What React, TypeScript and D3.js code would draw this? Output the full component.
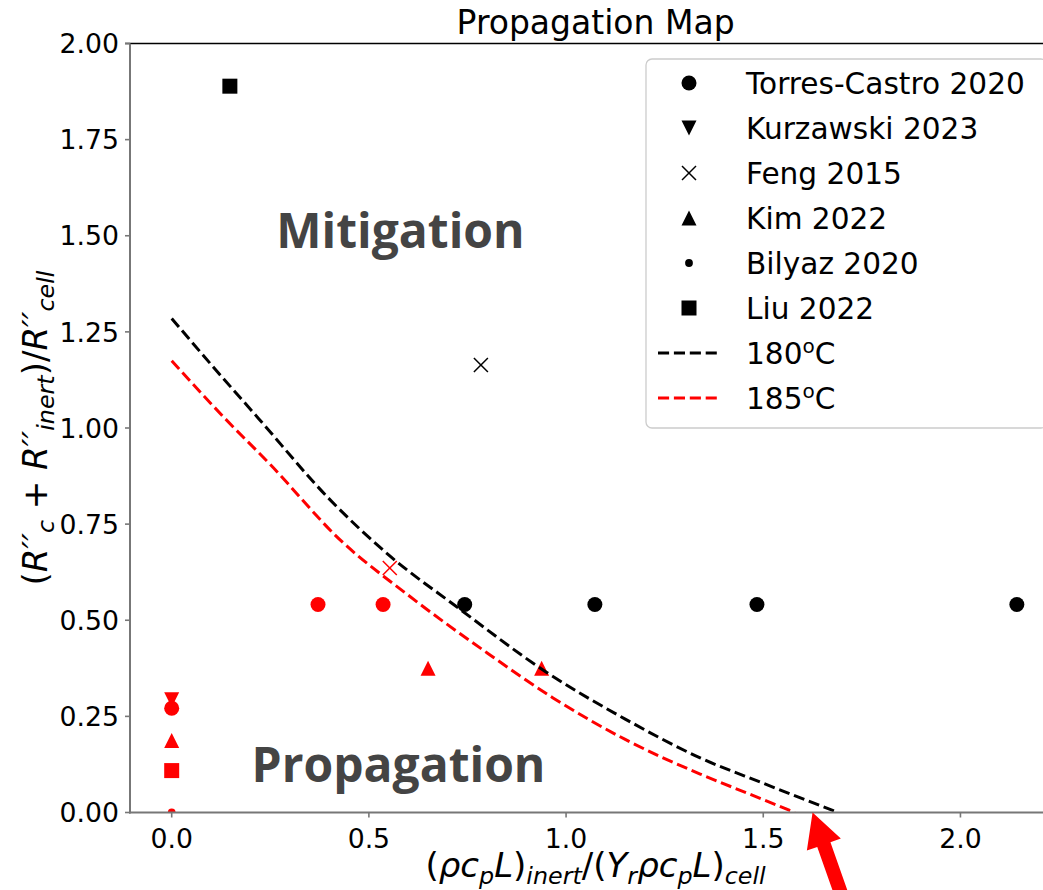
import React from 'react';
import * as d3 from 'd3';

const W = 1043;
const H = 890;

const xTicks = [0, 0.5, 1.0, 1.5, 2.0];
const xTickLabels = ['0.0', '0.5', '1.0', '1.5', '2.0'];
const yTicks = [0, 0.25, 0.5, 0.75, 1.0, 1.25, 1.5, 1.75, 2.0];
const yTickLabels = ['0.00', '0.25', '0.50', '0.75', '1.00', '1.25', '1.50', '1.75', '2.00'];

// series (x, y, propagated?)
const torresX = [0.743, 1.073, 1.484, 2.143, 0.371, 0.536, 0];
const torresY = [0.541, 0.541, 0.541, 0.541, 0.541, 0.541, 0.271];
const torresProp = [false, false, false, false, true, true, true];

const kurzX = [0];
const kurzY = [0.293];
const kurzProp = [true];

const fengX = [0.784, 0.553];
const fengY = [1.164, 0.636];
const fengProp = [false, true];

const kimX = [0.65, 0.938, 0];
const kimY = [0.375, 0.375, 0.187];
const kimProp = [true, true, true];

const bilyazX = [0];
const bilyazY = [0];
const bilyazProp = [true];

const liuX = [0.1475, 0];
const liuY = [1.889, 0.109];
const liuProp = [false, true];

const line180X = [0, 0.1, 0.22, 0.4, 0.55, 0.72, 0.95, 1.15, 1.34, 1.5, 1.69];
const line180Y = [1.285, 1.165, 1.025, 0.815, 0.67, 0.537, 0.365, 0.243, 0.142, 0.076, 0.0];
const line185X = [0, 0.134, 0.25, 0.427, 0.6, 0.8, 0.967, 1.15, 1.34, 1.46, 1.58];
const line185Y = [1.175, 1.026, 0.905, 0.709, 0.565, 0.415, 0.298, 0.19, 0.1, 0.05, 0.0];

const seriesNames = ['Torres-Castro 2020', 'Kurzawski 2023', 'Feng 2015', 'Kim 2022', 'Bilyaz 2020', 'Liu 2022'];
const seriesShapes = ['circle', 'tridown', 'x', 'triup', 'dot', 'square'];
const lineNames = ['180', '185'];
const lineColors = ['#000000', '#ff0000'];

const arrowTip = [1.625, 0];
const regionLabels = ['Mitigation', 'Propagation'];
const regionX = [0.58, 0.575];
const regionY = [1.468, 0.079];

const FONT = 'DejaVu Sans, Verdana, sans-serif';

const PL = 130, PR = 1062, PT = 43.5, PB = 812.5;

const x = d3.scaleLinear().domain([-0.1075, 2.2575]).range([129.3, 1062]);
const y = d3.scaleLinear().domain([0, 2]).range([PB, PT]);

function Marker({ shape, cx, cy, color }: { shape: string; cx: number; cy: number; color: string }) {
  const s = 7.5;
  switch (shape) {
    case 'circle':
      return <circle cx={cx} cy={cy} r={s} fill={color} />;
    case 'dot':
      return <circle cx={cx} cy={cy} r={3.9} fill={color} />;
    case 'square':
      return <rect x={cx - s} y={cy - s} width={2 * s} height={2 * s} fill={color} />;
    case 'triup':
      return <polygon points={`${cx},${cy - s} ${cx - s},${cy + s} ${cx + s},${cy + s}`} fill={color} />;
    case 'tridown':
      return <polygon points={`${cx},${cy + s} ${cx - s},${cy - s} ${cx + s},${cy - s}`} fill={color} />;
    case 'x':
      return (
        <g stroke={color} strokeWidth={1.5}>
          <line x1={cx - 7} y1={cy - 7} x2={cx + 7} y2={cy + 7} />
          <line x1={cx - 7} y1={cy + 7} x2={cx + 7} y2={cy - 7} />
        </g>
      );
    default:
      return null;
  }
}

type Seg = { t: string; sub?: boolean; it?: boolean };

function MathText({ segs, F, shift }: { segs: Seg[]; F: number; shift: number }) {
  let inSub = false;
  return (
    <>
      {segs.map((s, i) => {
        let dy = 0;
        if (s.sub && !inSub) { dy = shift; inSub = true; }
        else if (!s.sub && inSub) { dy = -shift; inSub = false; }
        return (
          <tspan key={i} dy={dy || undefined} fontSize={s.sub ? F * 0.7 : F} fontStyle={s.it ? 'italic' : 'normal'}>
            {s.t}
          </tspan>
        );
      })}
    </>
  );
}

const xLabelSegs: Seg[] = [
  { t: '(' }, { t: 'ρc', it: true }, { t: 'p', it: true, sub: true }, { t: 'L', it: true }, { t: ')' },
  { t: 'inert', it: true, sub: true }, { t: '/(' }, { t: 'Y', it: true }, { t: 'r', it: true, sub: true },
  { t: 'ρc', it: true }, { t: 'p', it: true, sub: true }, { t: 'L', it: true }, { t: ')' },
  { t: 'cell', it: true, sub: true },
];

const yLabelSegs: Seg[] = [
  { t: '(' }, { t: 'R′′', it: true }, { t: 'c', it: true, sub: true }, { t: ' + ' }, { t: 'R′′', it: true },
  { t: 'inert', it: true, sub: true }, { t: ')/' }, { t: 'R′′', it: true }, { t: 'cell', it: true, sub: true },
];

export default function App() {
  const series = [
    { X: torresX, Y: torresY, P: torresProp },
    { X: kurzX, Y: kurzY, P: kurzProp },
    { X: fengX, Y: fengY, P: fengProp },
    { X: kimX, Y: kimY, P: kimProp },
    { X: bilyazX, Y: bilyazY, P: bilyazProp },
    { X: liuX, Y: liuY, P: liuProp },
  ];
  const lines = [
    { X: line180X, Y: line180Y },
    { X: line185X, Y: line185Y },
  ];

  const legendRowY = (i: number) => 83 + i * 45;
  const tipX = x(arrowTip[0]);
  const tipY = y(arrowTip[1]);

  return (
    <svg width={W} height={H} style={{ position: 'absolute', left: 0, top: 0, background: '#fff' }} fontFamily={FONT}>
      <defs>
        <clipPath id="plotclip">
          <rect x={PL} y={PT} width={PR - PL} height={PB - PT} />
        </clipPath>
      </defs>
      <rect x={0} y={0} width={W} height={H} fill="#fff" />

      {/* title */}
      <text x={595.6} y={34} textAnchor="middle" fontSize={33} fill="#000">Propagation Map</text>

      {/* region labels */}
      {regionLabels.map((t, i) => (
        <text key={t} x={x(regionX[i])} y={y(regionY[i])} textAnchor="middle" fontFamily="'Open Sans', 'Noto Sans', sans-serif"
          fontWeight={700} fontSize={48} fill="#444444">{t}</text>
      ))}

      {/* markers */}
      <g clipPath="url(#plotclip)">
        {series.map((s, si) =>
          s.X.map((xv, j) => (
            <Marker key={`${si}-${j}`} shape={seriesShapes[si]} cx={x(xv)} cy={y(s.Y[j])} color={s.P[j] ? '#ff0000' : '#000000'} />
          ))
        )}
        {lines.map((l, i) => {
          const gen = d3.line<number>()
            .x((_, k) => x(l.X[k]))
            .y((v) => y(v))
            .curve(d3.curveMonotoneX);
          return (
            <path key={i} d={gen(l.Y) || ''} fill="none"
              stroke={lineColors[i]} strokeWidth={3} strokeDasharray="11.1,4.8" />
          );
        })}
      </g>

      {/* spines */}
      <line x1={125} x2={PR} y1={43.5} y2={43.5} stroke="#000" strokeWidth={1.3} />
      <line x1={PL} x2={PL} y1={PT} y2={PB + 1} stroke="#777" strokeWidth={2} />
      <line x1={PL - 1} x2={PR} y1={PB} y2={PB} stroke="#777" strokeWidth={2} />

      {/* y ticks */}
      {yTicks.map((t, i) => (
        <g key={i}>
          <line x1={PL - 5} x2={PL} y1={y(t)} y2={y(t)} stroke="#777" strokeWidth={1.6} />
          <text x={119} y={y(t) + 9.7} textAnchor="end" fontSize={26.7} fill="#000">{yTickLabels[i]}</text>
        </g>
      ))}
      {/* x ticks */}
      {xTicks.map((t, i) => (
        <g key={i}>
          <line x1={x(t)} x2={x(t)} y1={PB} y2={PB + 5} stroke="#777" strokeWidth={1.6} />
          <text x={x(t)} y={848} textAnchor="middle" fontSize={26.7} fill="#000">{xTickLabels[i]}</text>
        </g>
      ))}

      {/* axis labels */}
      <text x={595.6} y={877} textAnchor="middle" fill="#000" fontSize={34}>
        <MathText segs={xLabelSegs} F={34} shift={7} />
      </text>
      <text transform={`translate(47,428) rotate(-90)`} textAnchor="middle" fill="#000" fontSize={34}>
        <MathText segs={yLabelSegs} F={34} shift={7} />
      </text>

      {/* legend */}
      <rect x={646} y={59} width={401} height={369} rx={6} fill="#fff" fillOpacity={0.8} stroke="#cccccc" strokeWidth={1.3} />
      {seriesNames.map((n, i) => (
        <g key={n}>
          <Marker shape={seriesShapes[i]} cx={689} cy={legendRowY(i)} color="#000" />
          <text x={746} y={legendRowY(i) + 11} fontSize={29.6} fill="#000">{n}</text>
        </g>
      ))}
      {lineNames.map((n, i) => (
        <g key={n}>
          <line x1={658} x2={720} y1={legendRowY(6 + i)} y2={legendRowY(6 + i)} stroke={lineColors[i]} strokeWidth={3} strokeDasharray="11.1,4.8" />
          <text x={746} y={legendRowY(6 + i) + 11} fontSize={29.6} fill="#000">
            {n}<tspan dy={-11} fontSize={20}>o</tspan><tspan dy={11}>C</tspan>
          </text>
        </g>
      ))}

      {/* arrow */}
      <polygon transform={`translate(${tipX},${tipY}) rotate(70.6)`}
        points="0,0 34,-18 34,-7 140,-7 140,7 34,7 34,18" fill="#ff0000" />
    </svg>
  );
}
